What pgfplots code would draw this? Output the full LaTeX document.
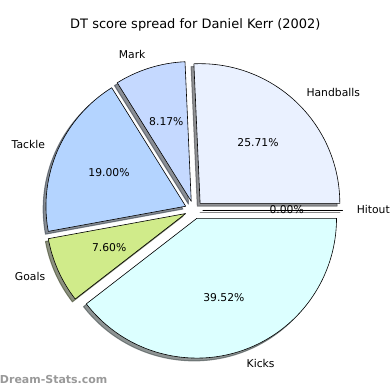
\documentclass[border=0pt]{standalone}
\usepackage{fontspec}
\setmainfont{DejaVu Sans}
\usepackage{pgfplots}
\pgfplotsset{compat=1.18}

\definecolor{cHitout}{HTML}{E0E0E0}
\definecolor{cHand}{HTML}{EAF1FF}
\definecolor{cMark}{HTML}{C5D9FF}
\definecolor{cTackle}{HTML}{B4D4FF}
\definecolor{cGoals}{HTML}{D0EB8A}
\definecolor{cKicks}{HTML}{DCFFFF}

% pie geometry (axis units = bp)
\newcommand\pcx{193.5}
\newcommand\pcy{179.7}
\newcommand\prad{140}
\newcommand\pexp{9}
\gdef\cum{0}

% #1 mode (0 shadow,1 wedge,2 labels), #2 label, #3 percent, #4 colour
\newcommand\pieslice[4]{%
  \pgfmathsetmacro\sa{3.6*\cum}%
  \pgfmathsetmacro\ea{3.6*(\cum+#3)}%
  \pgfmathsetmacro\ma{(\sa+\ea)/2}%
  \pgfmathsetmacro\cx{\pcx+\pexp*cos(\ma)}%
  \pgfmathsetmacro\cy{\pcy+\pexp*sin(\ma)}%
  \pgfmathsetmacro\newcum{\cum+#3}%
  \xdef\cum{\newcum}%
  \ifcase#1
    \pgfmathsetmacro\sx{\cx-2.8}%
    \pgfmathsetmacro\sy{\cy-2.8}%
    \edef\doit{\noexpand\filldraw[fill=#4!30!black, draw=#4!30!black, opacity=0.6, line width=1bp, line join=round]
      (axis cs:\sx,\sy) -- ++(\sa:\prad bp) arc[start angle=\sa, end angle=\ea, radius=\prad bp] -- cycle;}%
    \doit
  \or
    \edef\doit{\noexpand\filldraw[fill=#4, draw=black, line width=0.6bp, line join=round]
      (axis cs:\cx,\cy) -- ++(\sa:\prad bp) arc[start angle=\sa, end angle=\ea, radius=\prad bp] -- cycle;}%
    \doit
  \or
    \pgfmathsetmacro\lx{\cx+1.1*\prad*cos(\ma)}%
    \pgfmathsetmacro\ly{\cy+1.1*\prad*sin(\ma)}%
    \pgfmathsetmacro\px{\cx+0.6*\prad*cos(\ma)}%
    \pgfmathsetmacro\py{\cy+0.6*\prad*sin(\ma)}%
    \pgfmathparse{cos(\ma)>0?"west":"east"}\let\anc\pgfmathresult
    \edef\doit{\noexpand\node[anchor=\anc, inner sep=0pt] at (axis cs:\lx,\ly) {#2};
      \noexpand\node[anchor=center, inner sep=0pt] at (axis cs:\px,\py) {#3\noexpand\%};}%
    \doit
  \fi
}

\newcommand\allslices[1]{%
  \gdef\cum{0}%
  \pieslice{#1}{Hitout}{0.00}{cHitout}%
  \pieslice{#1}{Handballs}{25.71}{cHand}%
  \pieslice{#1}{Mark}{8.17}{cMark}%
  \pieslice{#1}{Tackle}{19.00}{cTackle}%
  \pieslice{#1}{Goals}{7.60}{cGoals}%
  \pieslice{#1}{Kicks}{39.52}{cKicks}%
}

\begin{document}
\fontsize{10.8bp}{13bp}\selectfont
\begin{tikzpicture}
\begin{axis}[
  x=1bp, y=1bp,
  xmin=0, xmax=390, ymin=0, ymax=390,
  hide axis, clip=false,
]
\path (axis cs:0,0) rectangle (axis cs:390,390);
\allslices{0}
\allslices{1}
\allslices{2}
\node[anchor=center, font=\fontsize{13bp}{15bp}\selectfont] at (axis cs:195,365) {DT score spread for Daniel Kerr (2002)};
\node[anchor=west, inner sep=0pt, text=black!40, font=\bfseries\fontsize{11bp}{13bp}\selectfont] at (axis cs:-1,10) {Dream-Stats.com};
\end{axis}
\end{tikzpicture}
\end{document}
